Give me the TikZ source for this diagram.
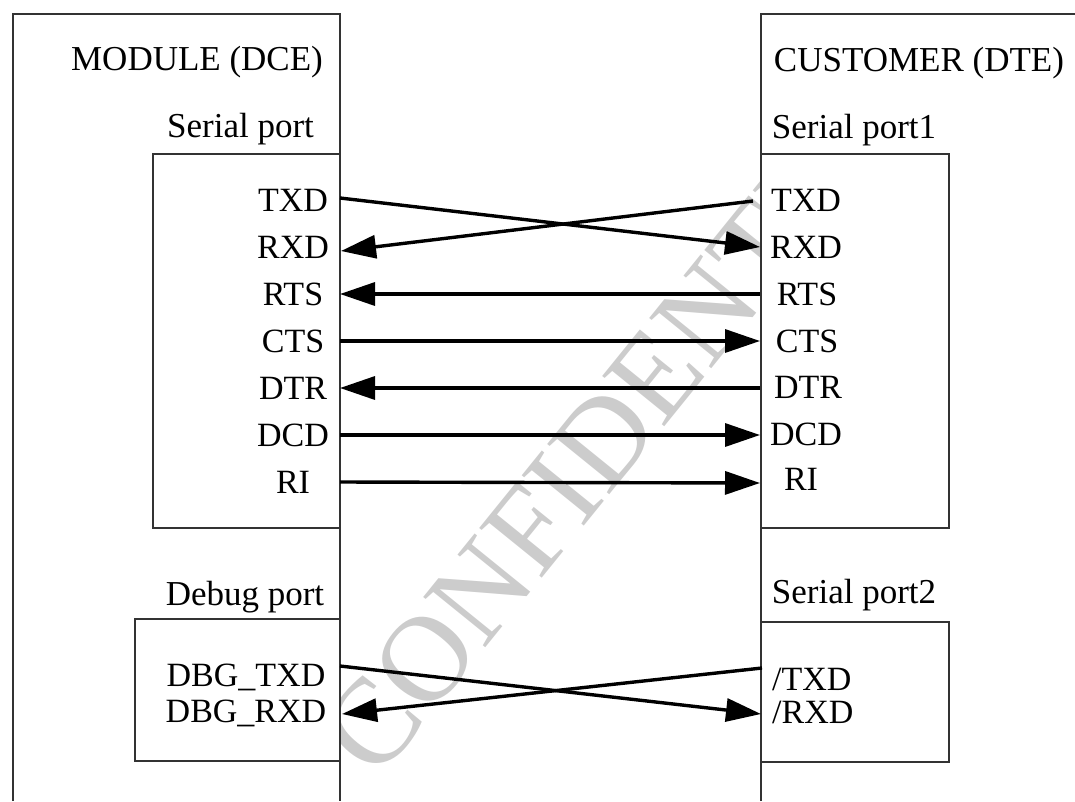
\documentclass[tikz,border=0pt]{standalone}
\usepackage{fontspec}
\setmainfont{Liberation Serif}
\usetikzlibrary{arrows.meta}
\begin{document}
\begin{tikzpicture}[x=1pt,y=-1pt,
  frame/.style={draw=black!80, line width=1.1pt},
  head/.style={anchor=base, inner sep=0pt, font=\fontsize{35}{40}\selectfont},
  sig/.style={anchor=base, inner sep=0pt, font=\fontsize{34}{36}\selectfont},
  wire/.style={line width=3.4pt, -{Triangle[length=35pt,width=23pt]}},
  wm/.style={text=black!20, font=\fontsize{122}{122}\selectfont, inner sep=0pt}]
\useasboundingbox (0,0) rectangle (1075,801);
% watermark (behind the boxes)
\node[wm, rotate=51, anchor=west] (wmark) at (346,757) {CONFIDENTIAL};
% module side
\fill[white] (13,14) rectangle (340,801);
\fill[white] (761,14) rectangle (1075,801);
\draw[frame] (13,801) -- (13,14) -- (340,14) -- (340,801);
\draw[frame] (340,154) -- (153,154) -- (153,528) -- (340,528);
\draw[frame] (340,619) -- (135,619) -- (135,761) -- (340,761);
% customer side
\draw[frame] (761,801) -- (761,14) -- (1075,14);
\draw[frame] (761,154) -- (949,154) -- (949,528) -- (761,528);
\draw[frame] (761,622) -- (949,622) -- (949,762) -- (761,762);
% headings
\node[head] (mod) at (197,70) {MODULE (DCE)};
\node[head] (msp) at (240.5,137.5) {Serial port};
\node[head] (cus) at (919,71) {CUSTOMER (DTE)};
\node[head] (csp1) at (854,138) {Serial port1};
\node[head] (mdbg) at (245,605) {Debug port};
\node[head] (csp2) at (854,603) {Serial port2};
% module signal labels
\node[sig] (lTXD) at (293,211) {TXD};
\node[sig] (lRXD) at (293,258) {RXD};
\node[sig] (lRTS) at (293,305) {RTS};
\node[sig] (lCTS) at (293,352) {CTS};
\node[sig] (lDTR) at (293,399) {DTR};
\node[sig] (lDCD) at (293,446) {DCD};
\node[sig] (lRI) at (293,493) {RI};
% customer signal labels
\node[sig] (rTXD) at (806,211) {TXD};
\node[sig] (rRXD) at (806,258) {RXD};
\node[sig] (rRTS) at (807,305) {RTS};
\node[sig] (rCTS) at (807,352) {CTS};
\node[sig] (rDTR) at (808,398) {DTR};
\node[sig] (rDCD) at (806,445) {DCD};
\node[sig] (rRI) at (801,490) {RI};
% debug labels
\node[sig] (lDBGT) at (246,686) {DBG\_TXD};
\node[sig] (lDBGR) at (246,722) {DBG\_RXD};
\node[sig, anchor=base west] (rTX2) at (772,690) {/TXD};
\node[sig, anchor=base west] (rRX2) at (772,723) {/RXD};
% pins
\coordinate (mTXD) at (340,198);
\coordinate (mRXD) at (341,251);
\coordinate (mRTS) at (340,294);
\coordinate (mCTS) at (340,341);
\coordinate (mDTR) at (340,388);
\coordinate (mDCD) at (340,435);
\coordinate (mRI) at (340,482);
\coordinate (cTXD) at (753,201);
\coordinate (cRXD) at (760,247);
\coordinate (cRTS) at (760,294);
\coordinate (cCTS) at (760,341);
\coordinate (cDTR) at (760,388);
\coordinate (cDCD) at (760,435);
\coordinate (cRI) at (760,483);
\coordinate (dTXD) at (340,666);
\coordinate (dRXD) at (342,714);
\coordinate (sTXD) at (762,668);
\coordinate (sRXD) at (761,714);
% wires
\draw[wire] (mTXD) -- (cRXD);
\draw[wire] (cTXD) -- (mRXD);
\draw[wire] (cRTS) -- (mRTS);
\draw[wire] (mCTS) -- (cCTS);
\draw[wire] (cDTR) -- (mDTR);
\draw[wire] (mDCD) -- (cDCD);
\draw[wire] (mRI) -- (cRI);
\draw[wire] (dTXD) -- (sRXD);
\draw[wire] (sTXD) -- (dRXD);
\end{tikzpicture}
\end{document}
